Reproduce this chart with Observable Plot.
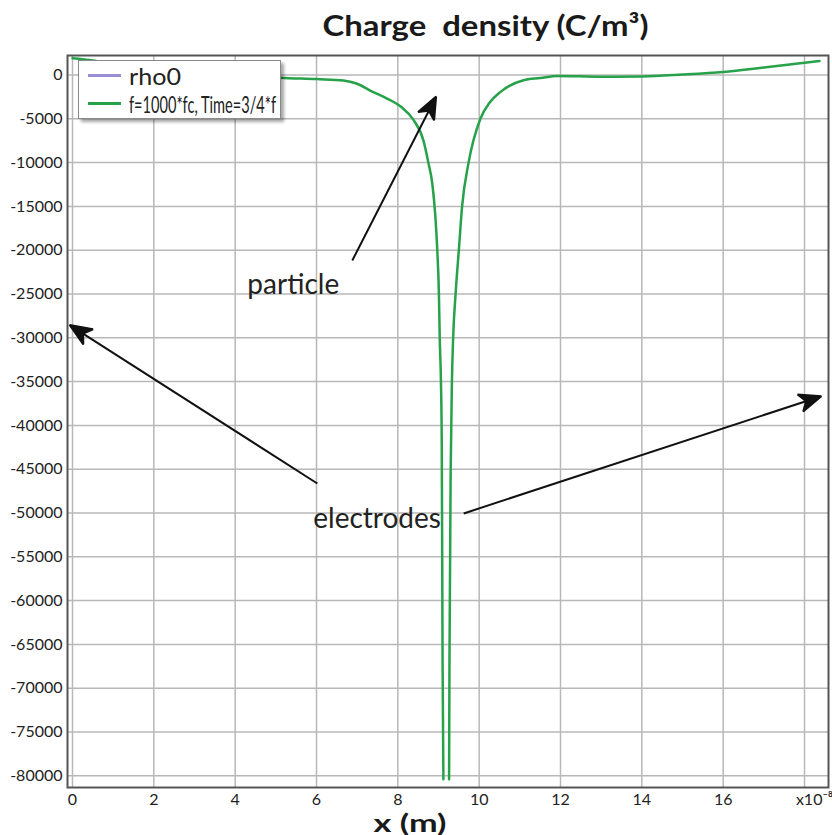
<!DOCTYPE html>
<html><head><meta charset="utf-8">
<script src="https://cdn.jsdelivr.net/npm/d3@7"></script>
<script src="https://cdn.jsdelivr.net/npm/@observablehq/plot@0.6"></script>
<style>
body{margin:0;background:#fff}
#wrap{position:relative;width:832px;height:835px;overflow:hidden}
.legend{position:absolute;left:78px;top:60px;width:201px;height:57px;background:#fff;border:1px solid #8a8a8a;box-shadow:3px 3px 3px rgba(0,0,0,0.35);font-family:Lato,sans-serif;font-size:24px;color:#222}
.row{position:absolute;left:0;height:28px;display:flex;align-items:center;white-space:nowrap}
.sw{display:inline-block;width:33px;height:3px;margin-left:9px;margin-right:8px}
.lt{display:inline-block;white-space:nowrap;transform-origin:0 50%}
</style></head>
<body><div id="wrap"></div>
<script>
// ---- data ----
const xs  = [0, 0.5, 1, 2, 3, 4, 5.1, 6.0, 6.66, 7.0, 7.33, 7.7, 8.07, 8.38, 8.63, 8.75, 8.85, 8.92, 8.97, 9.01, 9.03, 9.06, 9.08, 9.10, 9.12, 9.19, 9.26, 9.27, 9.30, 9.33, 9.36, 9.42, 9.50, 9.58, 9.74, 10.03, 10.25, 10.52, 11.09, 11.5, 11.93, 13, 14, 15, 16, 17, 18.37];
const rho = [1900, 1650, 1250, 750, 350, 50, -300, -470, -620, -1000, -1800, -2600, -3600, -5100, -7500, -10000, -12500, -16000, -20000, -25000, -30000, -35000, -42000, -66800, -80400, null, -80400, -66800, -45000, -35000, -30000, -25000, -20000, -15000, -10000, -5000, -3200, -1950, -600, -350, -100, -200, -170, 50, 350, 850, 1600];
const seriesNames = ["rho0", "f=1000*fc, Time=3/4*f"];
const seriesColors = ["#9a8fd6", "#27a24a"];
const xTicks = [0, 2, 4, 6, 8, 10, 12, 14, 16];
const xExpTick = [18];
const xExpLabel = "x10\u207B\u2078";
const yTicks = d3.range(-80000, 1, 5000);
const titleText = "Charge  density (C/m\u00B3)";
const xLabel = "x (m)";
// annotations in data units
const arrows = [
  {x1: 6.88, y1: -21175, x2: 8.93, y2: -2570},
  {x1: 6.02, y1: -46630, x2: -0.05, y2: -28600},
  {x1: 9.62, y1: -50050, x2: 18.39, y2: -36700}
];
const notes = [
  {x: 4.30, y: -24030, text: "particle"},
  {x: 5.92, y: -50740, text: "electrodes"}
];

const data = xs.map((x, i) => ({x, y: rho[i]}));
const font = "Lato, sans-serif";

const headMarker = (color) => {
  const m = d3.create("svg:marker")
    .attr("viewBox", "-24 -10 26 20")
    .attr("markerWidth", 26).attr("markerHeight", 20)
    .attr("markerUnits", "userSpaceOnUse")
    .attr("refX", 0).attr("refY", 0)
    .attr("orient", "auto");
  m.append("path").attr("d", "M1,0L-21,-9L-15,0L-21,9Z").attr("fill", color);
  return m.node();
};

const chart = Plot.plot({
  width: 832, height: 835,
  marginTop: 55, marginBottom: 48, marginLeft: 67, marginRight: 4,
  style: {fontFamily: font, fontSize: "16px", color: "#222", background: "#fff"},
  x: {domain: [-0.123, 18.59]},
  y: {domain: [-81336, 2226]},
  marks: [
    Plot.gridX(xTicks.concat(xExpTick), {stroke: "#b8b8b8", strokeOpacity: 1, strokeWidth: 1.5}),
    Plot.gridY(yTicks, {stroke: "#b8b8b8", strokeOpacity: 1, strokeWidth: 1.5}),
    Plot.axisX(xTicks, {tickSize: 0, tickPadding: 6, label: null, fontSize: 16}),
    Plot.axisX(xExpTick, {tickSize: 0, tickPadding: 6, tickFormat: () => xExpLabel, label: null, fontSize: 16, dx: 10}),
    Plot.axisY(yTicks, {tickSize: 0, tickPadding: 5, tickFormat: (d) => String(d), label: null, fontSize: 16}),
    Plot.line(data, {x: "x", y: "y", stroke: seriesColors[1], strokeWidth: 2.5, curve: "monotone-x"}),
    Plot.frame({stroke: "#555", strokeWidth: 2}),
    Plot.link(arrows, {x1: "x1", y1: "y1", x2: "x2", y2: "y2", stroke: "#111", strokeWidth: 2, markerEnd: headMarker}),
    Plot.text(notes, {x: "x", y: "y", text: "text", textAnchor: "start", fontSize: 28, fill: "#222"}),
    Plot.text([titleText], {frameAnchor: "top", lineAnchor: "middle", dx: 37.5, dy: -29, fontSize: 29, fontWeight: "bold", fill: "#1a1a1a"}),
    Plot.text([xLabel], {frameAnchor: "bottom", lineAnchor: "middle", dx: -38, dy: 36, fontSize: 25, fontWeight: "bold", fill: "#1a1a1a"})
  ]
});
const wrap = document.getElementById("wrap");
wrap.appendChild(chart);
d3.select(chart).selectAll("text").each(function () {
  const t = this.textContent;
  if (t === titleText) d3.select(this).attr("textLength", 326).attr("lengthAdjust", "spacingAndGlyphs");
  if (t === xLabel) d3.select(this).attr("textLength", 73).attr("lengthAdjust", "spacingAndGlyphs");
});

const leg = document.createElement("div");
leg.className = "legend";
const labels = [];
seriesNames.forEach((name, i) => {
  const row = document.createElement("div");
  row.className = "row";
  row.style.top = (0 + i * 28) + "px";
  const sw = document.createElement("span");
  sw.className = "sw"; sw.style.background = seriesColors[i];
  const t = document.createElement("span");
  t.className = "lt";
  t.textContent = name;
  row.appendChild(sw); row.appendChild(t);
  leg.appendChild(row);
  labels.push(t);
});
wrap.appendChild(leg);
const targets = [52, 147];
labels.forEach((t, i) => {
  const w = t.getBoundingClientRect().width;
  t.style.transform = "scaleX(" + (targets[i] / w) + ")";
});
</script>
</body></html>
